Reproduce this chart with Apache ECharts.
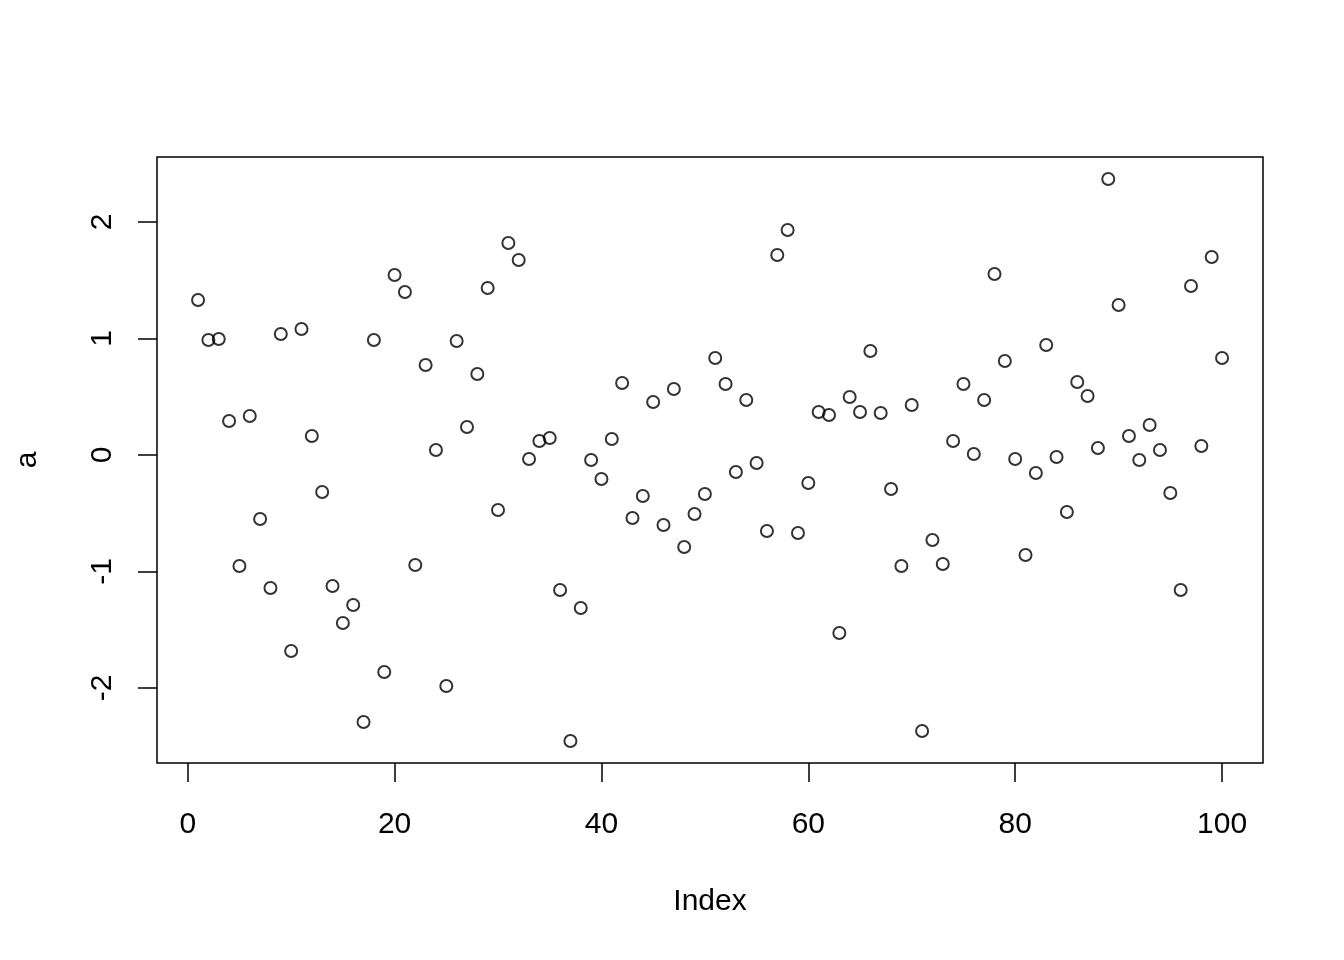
<!DOCTYPE html>
<html>
<head>
<meta charset="utf-8">
<script src="https://cdn.jsdelivr.net/npm/echarts@6/dist/echarts.min.js"></script>
<style>html,body{margin:0;padding:0;background:#fff}#c{width:1344px;height:960px}</style>
</head>
<body>
<div id="c"></div>
<script>
const values = [
 1.33, 0.987, 0.996, 0.292, -0.953, 0.335, -0.549, -1.142, 1.039, -1.682,
 1.082, 0.163, -0.318, -1.124, -1.442, -1.288, -2.292, 0.987, -1.863, 1.545,
 1.399, -0.944, 0.773, 0.043, -1.983, 0.979, 0.240, 0.695, 1.433, -0.472,
 1.820, 1.674, -0.034, 0.120, 0.146, -1.159, -2.455, -1.313, -0.043, -0.206,
 0.137, 0.618, -0.541, -0.352, 0.455, -0.601, 0.567, -0.790, -0.506, -0.335,
 0.833, 0.609, -0.146, 0.472, -0.069, -0.652, 1.717, 1.931, -0.670, -0.240,
 0.369, 0.343, -1.528, 0.498, 0.369, 0.893, 0.361, -0.292, -0.953, 0.429,
 -2.369, -0.730, -0.936, 0.120, 0.609, 0.009, 0.472, 1.554, 0.807, -0.034,
 -0.858, -0.155, 0.944, -0.017, -0.489, 0.627, 0.506, 0.060, 2.369, 1.288,
 0.163, -0.043, 0.258, 0.043, -0.326, -1.159, 1.451, 0.077, 1.700, 0.833
];
const indices = values.map((v, i) => i + 1);
const xTicks = [0, 20, 40, 60, 80, 100];
const yTicks = [-2, -1, 0, 1, 2];
const xLabel = 'Index';
const yLabel = 'a';

const data = indices.map((ix, i) => [ix, values[i]]);
const font = 'Liberation Sans, Arial, sans-serif';
const chart = echarts.init(document.getElementById('c'), null, {renderer: 'canvas'});
chart.setOption({
  animation: false,
  backgroundColor: '#fff',
  grid: {left: 157, right: 81, top: 157, bottom: 197, show: true, borderColor: '#000', borderWidth: 1.5, containLabel: false},
  xAxis: {
    type: 'value', min: -2.97, max: 103.96,
    splitLine: {show: false},
    axisLine: {show: false, onZero: false},
    axisTick: {show: true, length: 19, lineStyle: {color: '#000', width: 1.5}, customValues: xTicks},
    axisLabel: {customValues: xTicks, color: '#000', fontSize: 30, fontFamily: font, margin: 47},
    name: xLabel, nameLocation: 'middle', nameGap: 124,
    nameTextStyle: {color: '#000', fontSize: 30, fontFamily: font}
  },
  yAxis: {
    type: 'value', min: -2.644, max: 2.558,
    splitLine: {show: false},
    axisLine: {show: false, onZero: false},
    axisTick: {show: true, length: 19, lineStyle: {color: '#000', width: 1.5}, customValues: yTicks},
    axisLabel: {customValues: yTicks, rotate: 90, color: '#000', fontSize: 30, fontFamily: font, margin: 39},
    name: yLabel, nameLocation: 'middle', nameGap: 114, nameRotate: 90,
    nameTextStyle: {color: '#000', fontSize: 30, fontFamily: font}
  },
  series: [{
    type: 'scatter',
    data: data,
    symbol: 'circle',
    symbolSize: 12,
    itemStyle: {color: 'rgba(0,0,0,0)', borderColor: '#000', borderWidth: 2}
  }]
});
</script>
</body>
</html>
